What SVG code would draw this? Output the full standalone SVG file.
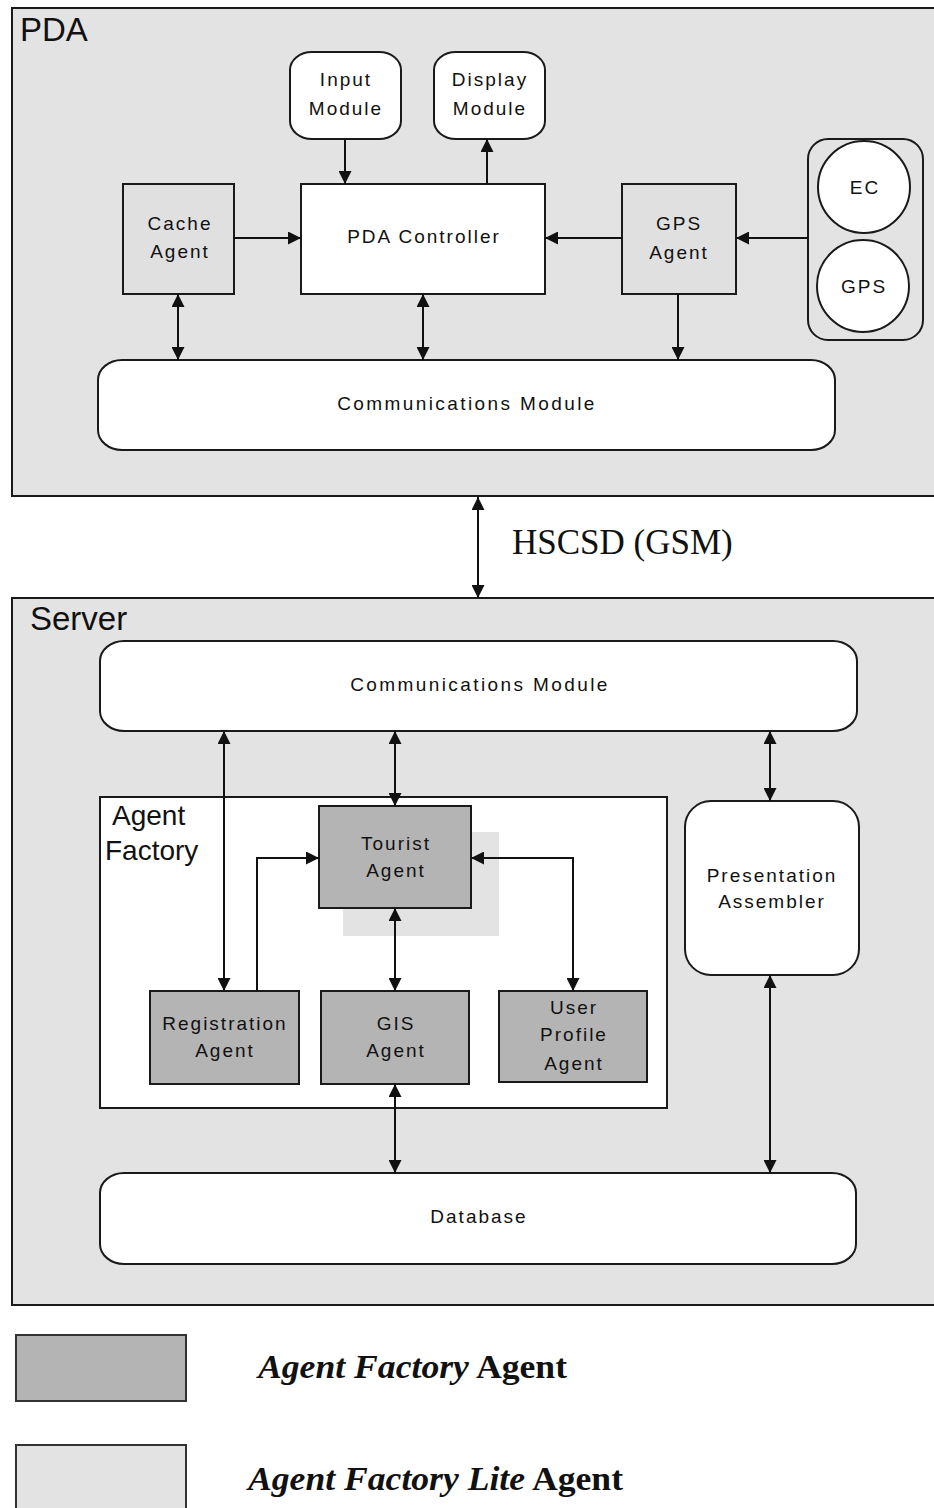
<svg xmlns="http://www.w3.org/2000/svg" width="934" height="1508" viewBox="0 0 934 1508">
<style>
.frame{fill:#e3e3e3;stroke:#1a1a1a;stroke-width:2}
.white{fill:#fff;stroke:#1a1a1a;stroke-width:2}
.lite{fill:#e0e0e0;stroke:#1a1a1a;stroke-width:2}
.af{fill:#b4b4b4;stroke:#1a1a1a;stroke-width:2}
.lbl{font-family:"Liberation Sans",Arial,sans-serif;font-size:19px;letter-spacing:2px;fill:#111;text-anchor:middle}
.wide{letter-spacing:2.4px}
.big{font-family:"Liberation Sans",Arial,sans-serif;font-size:33px;fill:#111}
.mid{font-family:"Liberation Sans",Arial,sans-serif;font-size:28px;fill:#111}
.ser{font-family:"Liberation Serif","Times New Roman",serif;fill:#111}
.conn line,.conn polyline{stroke:#111;stroke-width:2;fill:none}
</style>
<defs>
<marker id="ah" viewBox="0 0 12 12" refX="12" refY="6" markerWidth="13" markerHeight="13" markerUnits="userSpaceOnUse" orient="auto-start-reverse">
<path d="M0,0 L12,6 L0,12 z" fill="#111"/>
</marker>
</defs>
<rect width="934" height="1508" fill="#fff"/>

<g id="pda">
<rect class="frame" x="12" y="8" width="930" height="488"/>
<text class="big" x="20" y="41">PDA</text>
</g>
<g id="input-module">
<rect class="white" x="290" y="52" width="111" height="87" rx="22" ry="18"/>
<text class="lbl" x="346" y="86">Input</text>
<text class="lbl" x="346" y="115">Module</text>
</g>
<g id="display-module">
<rect class="white" x="434" y="52" width="111" height="87" rx="22" ry="18"/>
<text class="lbl" x="490" y="86">Display</text>
<text class="lbl" x="490" y="115">Module</text>
</g>
<g id="cache-agent">
<rect class="lite" x="123" y="184" width="111" height="110"/>
<text class="lbl" x="180" y="230">Cache</text>
<text class="lbl" x="180" y="258">Agent</text>
</g>
<g id="pda-controller">
<rect class="white" x="301" y="184" width="244" height="110"/>
<text class="lbl" x="424" y="243">PDA Controller</text>
</g>
<g id="gps-agent">
<rect class="lite" x="622" y="184" width="114" height="110"/>
<text class="lbl" x="679" y="230">GPS</text>
<text class="lbl" x="679" y="259">Agent</text>
</g>
<g id="devices">
<rect class="frame" x="808" y="139" width="115" height="201" rx="20" ry="20"/>
<circle class="white" cx="864" cy="187" r="46"/>
<text class="lbl" x="865" y="194">EC</text>
<circle class="white" cx="863" cy="286" r="46"/>
<text class="lbl" x="864" y="293">GPS</text>
</g>
<g id="pda-comm">
<rect class="white" x="98" y="360" width="737" height="90" rx="24" ry="20"/>
<text class="lbl wide" x="467" y="410">Communications Module</text>
</g>

<g id="hscsd">
<text class="ser" x="512" y="554" font-size="35">HSCSD (GSM)</text>
</g>

<g id="server">
<rect class="frame" x="12" y="598" width="930" height="707"/>
<text class="big" x="30" y="630">Server</text>
</g>
<g id="server-comm">
<rect class="white" x="100" y="641" width="757" height="90" rx="24" ry="20"/>
<text class="lbl wide" x="480" y="691">Communications Module</text>
</g>
<g id="agent-factory">
<rect class="white" x="100" y="797" width="567" height="311"/>
<text class="mid" x="112" y="825">Agent</text>
<text class="mid" x="105" y="860">Factory</text>
</g>
<g id="tourist-agent">
<rect x="343" y="832" width="156" height="104" fill="#e3e3e3"/>
<rect class="af" x="319" y="806" width="152" height="102"/>
<text class="lbl" x="396" y="850">Tourist</text>
<text class="lbl" x="396" y="877">Agent</text>
</g>
<g id="registration-agent">
<rect class="af" x="150" y="991" width="149" height="93"/>
<text class="lbl" x="225" y="1030">Registration</text>
<text class="lbl" x="225" y="1057">Agent</text>
</g>
<g id="gis-agent">
<rect class="af" x="321" y="991" width="148" height="93"/>
<text class="lbl" x="396" y="1030">GIS</text>
<text class="lbl" x="396" y="1057">Agent</text>
</g>
<g id="user-profile-agent">
<rect class="af" x="499" y="991" width="148" height="91"/>
<text class="lbl" x="574" y="1014">User</text>
<text class="lbl" x="574" y="1041">Profile</text>
<text class="lbl" x="574" y="1070">Agent</text>
</g>
<g id="presentation-assembler">
<rect class="white" x="685" y="801" width="174" height="174" rx="26" ry="26"/>
<text class="lbl" x="772" y="882">Presentation</text>
<text class="lbl" x="772" y="908">Assembler</text>
</g>
<g id="database">
<rect class="white" x="100" y="1173" width="756" height="91" rx="24" ry="20"/>
<text class="lbl" x="479" y="1223">Database</text>
</g>

<g id="legend">
<rect x="16" y="1335" width="170" height="66" fill="#b4b4b4" stroke="#333" stroke-width="2"/>
<text class="ser" x="258" y="1378" font-size="34" font-weight="bold" textLength="309" lengthAdjust="spacingAndGlyphs"><tspan font-style="italic">Agent Factory</tspan> Agent</text>
<rect x="16" y="1445" width="170" height="70" fill="#e3e3e3" stroke="#333" stroke-width="2"/>
<text class="ser" x="248" y="1490" font-size="34" font-weight="bold" textLength="375" lengthAdjust="spacingAndGlyphs"><tspan font-style="italic">Agent Factory Lite</tspan> Agent</text>
</g>

<g id="connectors" class="conn">
<line x1="345" y1="139" x2="345" y2="184" marker-end="url(#ah)"/>
<line x1="487" y1="184" x2="487" y2="139" marker-end="url(#ah)"/>
<line x1="234" y1="238" x2="301" y2="238" marker-end="url(#ah)"/>
<line x1="622" y1="238" x2="545" y2="238" marker-end="url(#ah)"/>
<line x1="808" y1="238" x2="736" y2="238" marker-end="url(#ah)"/>
<line x1="178" y1="294" x2="178" y2="360" marker-start="url(#ah)" marker-end="url(#ah)"/>
<line x1="423" y1="294" x2="423" y2="360" marker-start="url(#ah)" marker-end="url(#ah)"/>
<line x1="678" y1="294" x2="678" y2="360" marker-end="url(#ah)"/>
<line x1="478" y1="497" x2="478" y2="598" marker-start="url(#ah)" marker-end="url(#ah)"/>
<line x1="224" y1="731" x2="224" y2="991" marker-start="url(#ah)" marker-end="url(#ah)"/>
<line x1="395" y1="731" x2="395" y2="806" marker-start="url(#ah)" marker-end="url(#ah)"/>
<line x1="770" y1="731" x2="770" y2="801" marker-start="url(#ah)" marker-end="url(#ah)"/>
<polyline points="257,991 257,858 319,858" marker-end="url(#ah)"/>
<polyline points="471,858 573,858 573,991" marker-start="url(#ah)" marker-end="url(#ah)"/>
<line x1="395" y1="908" x2="395" y2="991" marker-start="url(#ah)" marker-end="url(#ah)"/>
<line x1="395" y1="1084" x2="395" y2="1173" marker-start="url(#ah)" marker-end="url(#ah)"/>
<line x1="770" y1="975" x2="770" y2="1173" marker-start="url(#ah)" marker-end="url(#ah)"/>
</g>
</svg>
